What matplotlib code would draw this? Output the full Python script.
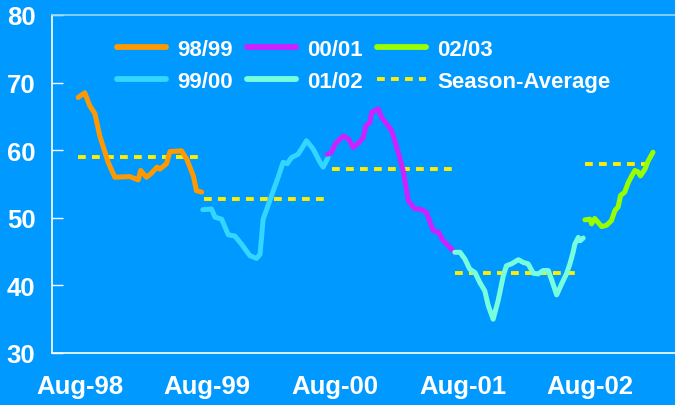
import matplotlib
matplotlib.use("Agg")
import matplotlib.pyplot as plt
import pandas as pd

# ---- data ----
s9899_dates = ["1998-07-27", "1998-08-15", "1998-08-29", "1998-09-13", "1998-09-27", "1998-10-21",
               "1998-11-09", "1998-12-22", "1999-01-15", "1999-01-22", "1999-02-08", "1999-02-22",
               "1999-03-10", "1999-03-18", "1999-04-06", "1999-04-16", "1999-05-19", "1999-06-03",
               "1999-06-22", "1999-07-01", "1999-07-16"]
s9899_vals = [67.8, 68.5, 66.6, 65.4, 62.1, 58.2, 56.0, 56.1, 55.6, 57.0, 56.0, 56.6,
              57.5, 57.2, 58.0, 59.8, 59.9, 58.7, 56.2, 54.0, 53.8]

s9900_dates = ["1999-07-19", "1999-08-13", "1999-08-23", "1999-09-11", "1999-09-30", "1999-10-19",
               "1999-11-07", "1999-12-01", "1999-12-20", "1999-12-30", "2000-01-08", "2000-01-22",
               "2000-02-06", "2000-02-20", "2000-03-05", "2000-03-17", "2000-03-29", "2000-04-17",
               "2000-04-27", "2000-05-11", "2000-05-30", "2000-06-19", "2000-06-28", "2000-07-12"]
s9900_vals = [51.2, 51.3, 50.1, 49.8, 47.5, 47.3, 46.1, 44.4, 44.0, 44.6, 49.8, 51.8,
              54.0, 56.0, 58.2, 58.0, 58.9, 59.4, 60.2, 61.4, 60.2, 58.2, 57.5, 58.9]

s0001_dates = ["2000-07-10", "2000-07-22", "2000-08-01", "2000-08-24", "2000-09-08", "2000-09-22",
               "2000-10-06", "2000-10-21", "2000-10-28", "2000-11-09", "2000-11-14", "2000-12-03",
               "2000-12-12", "2000-12-31", "2001-01-10", "2001-01-29", "2001-02-12", "2001-02-27",
               "2001-03-18", "2001-04-01", "2001-04-20", "2001-05-09", "2001-05-24", "2001-06-07",
               "2001-06-21", "2001-07-10"]
s0001_vals = [59.4, 59.7, 60.9, 62.1, 61.7, 60.4, 61.0, 61.9, 63.6, 64.1, 65.6, 66.1,
              64.9, 63.6, 62.9, 59.7, 57.0, 52.5, 51.3, 51.3, 50.8, 48.1, 47.9, 46.6,
              45.9, 44.9]

s0102_dates = ["2001-07-10", "2001-07-25", "2001-08-08", "2001-08-22", "2001-09-06", "2001-09-20",
               "2001-10-04", "2001-10-14", "2001-10-28", "2001-11-11", "2001-11-26", "2001-12-05",
               "2001-12-20", "2002-01-08", "2002-01-22", "2002-02-05", "2002-02-20", "2002-03-06",
               "2002-03-20", "2002-04-04", "2002-04-13", "2002-04-28", "2002-05-12", "2002-05-26",
               "2002-06-05", "2002-06-14", "2002-06-19", "2002-06-29", "2002-07-04", "2002-07-13"]
s0102_vals = [44.9, 44.9, 43.9, 42.4, 41.9, 40.4, 39.2, 37.0, 35.0, 37.7, 41.4, 42.9,
              43.2, 43.8, 43.4, 43.2, 41.8, 41.7, 42.2, 42.2, 40.9, 38.6, 40.2, 41.7,
              43.2, 44.9, 46.1, 47.1, 46.6, 47.0]

s0203_dates = ["2002-07-18", "2002-08-01", "2002-08-06", "2002-08-15", "2002-09-04", "2002-09-18",
               "2002-10-02", "2002-10-12", "2002-10-21", "2002-10-28", "2002-11-09", "2002-11-19",
               "2002-11-29", "2002-12-08", "2002-12-17", "2002-12-24", "2003-01-06", "2003-01-15",
               "2003-01-29"]
s0203_vals = [49.7, 49.8, 49.1, 49.9, 48.7, 48.9, 49.6, 51.1, 51.6, 53.3, 53.8, 55.2,
              56.2, 57.0, 56.8, 56.2, 57.2, 58.4, 59.7]

season_labels = ["98/99", "99/00", "00/01", "01/02", "02/03"]
avg_start = ["1998-07-26", "1999-07-22", "2000-07-22", "2001-07-10", "2002-07-18"]
avg_end = ["1999-07-17", "2000-07-17", "2001-07-15", "2002-07-04", "2003-01-29"]
avg_vals = [59.0, 52.8, 57.2, 41.9, 58.0]

xtick_labels = ["Aug-98", "Aug-99", "Aug-00", "Aug-01", "Aug-02"]
xtick_dates = ["1998-08-01", "1999-08-01", "2000-08-01", "2001-08-01", "2002-08-01"]
yticks = [30, 40, 50, 60, 70, 80]

# ---- style ----
BG = "#0099FF"
colors = ["#FF9900", "#33D6FF", "#CC22FF", "#77FFDD", "#99FF00"]
AVG_COLOR = "#FFEE00"

plt.rcParams["font.family"] = ["Liberation Sans", "DejaVu Sans"]

fig = plt.figure(figsize=(6.75, 4.06), dpi=100, facecolor=BG)
ax = fig.add_axes([52 / 675, 52 / 406, 1 - 52 / 675, (354 - 16) / 406])
ax.set_facecolor(BG)

series = [(s9899_dates, s9899_vals), (s9900_dates, s9900_vals), (s0001_dates, s0001_vals),
          (s0102_dates, s0102_vals), (s0203_dates, s0203_vals)]

handles = []
for (d, v), c, lab in zip(series, colors, season_labels):
    h, = ax.plot(pd.to_datetime(d), v, color=c, lw=3.6, label=lab,
                 solid_capstyle="round", solid_joinstyle="round", zorder=3)
    handles.append(h)

avg_handle = None
for s, e, v in zip(avg_start, avg_end, avg_vals):
    avg_handle, = ax.plot(pd.to_datetime([s, e]), [v, v], color=AVG_COLOR, lw=2.8,
                          dashes=(2.0, 1.6), label="Season-Average", zorder=2)

ax.set_ylim(30, 80)
ax.set_xlim(pd.Timestamp("1998-05-13"), pd.Timestamp("2003-04-02"))
ax.set_yticks(yticks)
ax.set_xticks(pd.to_datetime(xtick_dates))
ax.set_xticklabels(xtick_labels)

ax.spines["right"].set_visible(False)
ax.spines["top"].set_color("#99D6FF")
ax.spines["top"].set_linewidth(1.2)
ax.spines["left"].set_color("white")
ax.spines["bottom"].set_color("white")
ax.spines["left"].set_linewidth(1.2)
ax.spines["bottom"].set_linewidth(1.2)

ax.tick_params(axis="y", direction="in", length=8, width=1, color="white",
               labelcolor="white", labelsize=18.5, pad=12)
ax.tick_params(axis="x", length=0, labelcolor="white", labelsize=18.5, pad=15)
for t in ax.get_xticklabels() + ax.get_yticklabels():
    t.set_fontweight("bold")

leg = ax.legend(handles=handles + [avg_handle],
                labels=season_labels + ["Season-Average"],
                ncol=3, frameon=False, loc="upper left",
                bbox_to_anchor=(117 / 675, 1 - 40 / 406), bbox_transform=fig.transFigure,
                borderpad=0, borderaxespad=0, handlelength=2.2, handletextpad=0.5,
                columnspacing=0.65, labelspacing=0.5,
                prop={"size": 16, "weight": "bold"})
for t in leg.get_texts():
    t.set_color("white")
for h in leg.legend_handles[:5]:
    h.set_linewidth(4.2)

fig.savefig("out.png", dpi=100, facecolor=BG)
